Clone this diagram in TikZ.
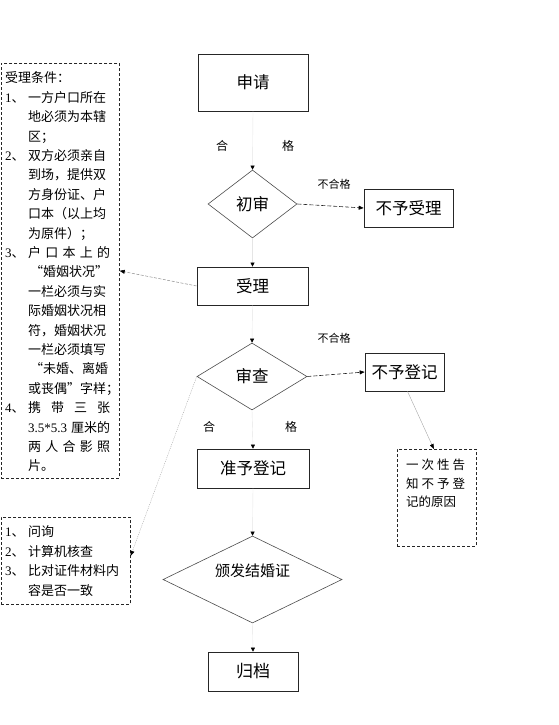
\documentclass[tikz,border=0pt]{standalone}
\usepackage{fontspec}
\setmainfont{Noto Sans CJK SC}
\newfontfamily\lat{Liberation Serif}
\usetikzlibrary{arrows.meta,shapes.geometric}
\newcommand{\numi}[1]{\makebox[23pt][l]{{\lat #1}、}}
\newcommand{\indt}{\hspace*{23pt}}
\newcommand{\spr}[1]{\makebox[82pt][s]{#1}}
\newcommand{\sprb}[1]{\makebox[59pt][s]{#1}}
\begin{document}
\begin{tikzpicture}[x=1pt,y=-1pt,
  proc/.style={draw=black!85, line width=0.7pt, inner sep=0pt, font=\fontsize{16.5}{16.5}\selectfont},
  dec/.style={diamond, draw=black!70, line width=0.6pt, inner sep=0pt, aspect=2, font=\fontsize{16.5}{16.5}\selectfont},
  note/.style={draw=black!85, line width=0.7pt, dash pattern=on 3pt off 2pt, inner sep=0pt},
  notetext/.style={inner sep=0pt, align=left, anchor=west, font=\fontsize{13}{19.4}\selectfont},
  lab/.style={inner sep=0pt, font=\fontsize{12}{12}\selectfont},
  nlab/.style={inner sep=0pt, font=\fontsize{11}{11}\selectfont},
  faint/.style={draw=black!10, line width=0.4pt, -{Triangle[length=4pt,width=4pt,color=black]}},
  dasharrow/.style={draw=black!85, line width=0.6pt, dash pattern=on 4pt off 2pt, -{Triangle[length=5pt,width=4pt,color=black]}},
  greyarrow/.style={draw=black!45, line width=0.5pt, dash pattern=on 3pt off 1.5pt, -{Triangle[length=5pt,width=4pt,color=black]}},
  dotarrow/.style={draw=black!35, line width=0.4pt, dash pattern=on 1pt off 1pt, -{Triangle[length=5pt,width=4pt,color=black]}},
  thinarrow/.style={draw=black!35, line width=0.4pt, -{Triangle[length=5pt,width=4pt,color=black]}}
]
\useasboundingbox (0,0) rectangle (559,725);

% main flow
\node[proc, minimum width=110pt, minimum height=57pt] (sq) at (253,82.5) {申请};
\node[dec, minimum width=89pt, minimum height=68pt] (cs) at (252.5,204) {初审};
\node[proc, minimum width=89pt, minimum height=38pt] (bsl) at (408.5,208) {不予受理};
\node[proc, minimum width=111pt, minimum height=38pt] (sl) at (252.5,286) {受理};
\node[dec, minimum width=110pt, minimum height=67pt] (sc) at (252,376.5) {审查};
\node[proc, minimum width=79pt, minimum height=38pt] (bdj) at (404.5,372) {不予登记};
\node[proc, minimum width=112pt, minimum height=39pt] (zdj) at (253,468.5) {准予登记};
\node[dec, minimum width=179pt, minimum height=87pt] (bf) at (252.5,579.5) {};
\node[inner sep=0pt, font=\fontsize{15}{15}\selectfont] (bft) at (252.5,571) {颁发结婚证};
\node[proc, minimum width=90pt, minimum height=39pt, font=\fontsize{17}{17}\selectfont] (gd) at (253,671.5) {归档};

% labels
\node[lab] (h1) at (222,146) {合};
\node[lab] (g1) at (288,146) {格};
\node[nlab] (bh1) at (334,184) {不合格};
\node[nlab] (bh2) at (334,338) {不合格};
\node[lab] (h2) at (209,427) {合};
\node[lab] (g2) at (291,427) {格};

% note boxes
\node[note, anchor=north west, minimum width=118pt, minimum height=415pt] (nb1) at (1,63) {};
\node[notetext] (nt1) at (5,272) {受理条件：\\
\numi{1}一方户口所在\\
\indt 地必须为本辖\\
\indt 区；\\
\numi{2}双方必须亲自\\
\indt 到场，提供双\\
\indt 方身份证、户\\
\indt 口本（以上均\\
\indt 为原件）；\\
\numi{3}\spr{户 口 本 上 的}\\
\indt \hspace*{2pt}“婚姻状况”\\
\indt 一栏必须与实\\
\indt 际婚姻状况相\\
\indt 符，婚姻状况\\
\indt 一栏必须填写\\
\indt \hspace*{2pt}“未婚、离婚\\
\indt 或丧偶”字样；\\
\numi{4}\spr{携 带 三 张}\\
\indt \spr{{\lat 3.5*5.3} 厘米的}\\
\indt \spr{两 人 合 影 照}\\
\indt 片。};

\node[note, anchor=north west, minimum width=129pt, minimum height=87pt] (nb2) at (1,517) {};
\node[notetext] (nt2) at (5,561) {\numi{1}问询\\
\numi{2}计算机核查\\
\numi{3}比对证件材料内\\
\indt 容是否一致};

\node[note, anchor=north west, minimum width=79pt, minimum height=97pt] (nb3) at (397,449) {};
\node[notetext, font=\fontsize{12.5}{18.5}\selectfont] (nt3) at (406,483.5) {\sprb{一 次 性 告}\\
\sprb{知 不 予 登}\\
记的原因};

% connectors
\draw[faint] (sq.south) -- (cs.north);
\draw[faint] (cs.south) -- (sl.north);
\draw[faint] (sl.south) -- (sc.north);
\draw[faint] (sc.south) -- (zdj.north);
\draw[faint] (zdj.south) -- (bf.north);
\draw[faint] (bf.south) -- (gd.north);
\draw[dasharrow] (cs.east) -- (bsl.west);
\draw[dasharrow] (sc.east) -- (bdj.west);
\draw[greyarrow] (sl.west) -- (nb1.east);
\draw[dotarrow] (sc.west) -- ([yshift=5pt]nb2.east);
\draw[thinarrow] ([xshift=3pt]bdj.south) -- ([xshift=-3pt]nb3.north);
\end{tikzpicture}
\end{document}
